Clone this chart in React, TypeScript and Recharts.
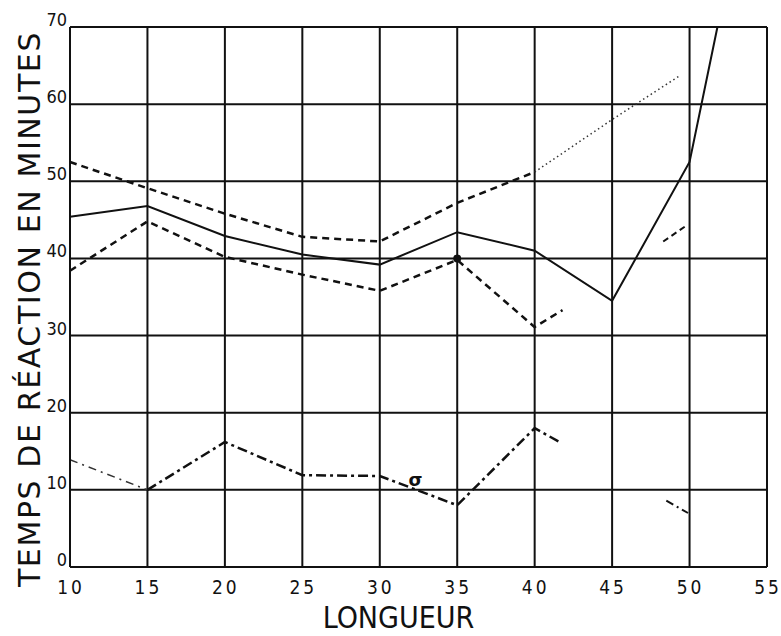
import React from "react";
import {
  LineChart,
  Line,
  XAxis,
  YAxis,
  CartesianGrid,
  ReferenceDot,
} from "recharts";

// Longueur (x) and temps de réaction (y)
const xTicks = [10, 15, 20, 25, 30, 35, 40, 45, 50, 55];
const yTicks = [0, 10, 20, 30, 40, 50, 60, 70];

const solidX = [10, 15, 20, 25, 30, 35, 40, 45, 50, 51.8];
const solidY = [45.4, 46.8, 42.9, 40.5, 39.2, 43.4, 41.0, 34.5, 52.5, 70];

const upperX = [10, 15, 20, 25, 30, 35, 40];
const upperY = [52.5, 49.1, 45.8, 42.8, 42.2, 47.2, 51.2];

const upperDotX = [40, 45, 49.3];
const upperDotY = [51.2, 58.0, 63.6];

const lowerX = [10, 15, 20, 25, 30, 35, 40, 41.8];
const lowerY = [38.4, 44.8, 40.2, 37.9, 35.8, 39.8, 31.1, 33.3];

const lowerStubX = [48.3, 49.9];
const lowerStubY = [42.2, 44.4];

const dashDotStartX = [10, 15];
const dashDotStartY = [13.9, 10.0];

const dashDotX = [15, 20, 25, 30, 35, 40, 41.6];
const dashDotY = [10.0, 16.2, 11.9, 11.8, 8.0, 18.0, 16.2];

const dashDotStubX = [48.5, 49.9];
const dashDotStubY = [8.6, 7.0];

const toPoints = (xs: number[], ys: number[]) =>
  xs.map((x, i) => ({ x, y: ys[i] }));

const FONT = "'DejaVu Sans', sans-serif";
const FONT_NARROW = "'DejaVu Sans Condensed', 'DejaVu Sans', sans-serif";

function XTick({ x, y, payload }: any) {
  return (
    <text
      x={x + 1}
      y={y + 27}
      textAnchor="middle"
      fontFamily={FONT_NARROW}
      fontSize={19}
      letterSpacing={3}
      fill="#111"
    >
      {payload.value}
    </text>
  );
}

function YTick({ x, y, payload }: any) {
  return (
    <text
      x={x}
      y={y - 1}
      textAnchor="end"
      fontFamily={FONT_NARROW}
      fontSize={18}
      fill="#111"
    >
      {payload.value}
    </text>
  );
}

// axis titles placed relative to the plot's viewBox
function XTitle({ viewBox }: any) {
  const cx = viewBox.x + viewBox.width / 2 - 20;
  return (
    <text
      x={cx}
      y={viewBox.y + 61}
      textAnchor="middle"
      fontFamily={FONT_NARROW}
      fontSize={30}
      fill="#111"
    >
      LONGUEUR
    </text>
  );
}

function YTitle({ viewBox }: any) {
  const cx = 29;
  const cy = viewBox.y + viewBox.height / 2 + 12;
  return (
    <text
      x={cx}
      y={cy}
      transform={`rotate(-90, ${cx}, ${cy})`}
      textAnchor="middle"
      dominantBaseline="central"
      fontFamily={FONT}
      fontSize={30}
      letterSpacing={1.6}
      fill="#111"
    >
      TEMPS DE RÉACTION EN MINUTES
    </text>
  );
}

export default function App() {
  return (
    <div
      style={{
        position: "fixed",
        left: 0,
        top: 0,
        width: 781,
        height: 636,
        background: "#fff",
      }}
    >
      <LineChart
        width={781}
        height={636}
        margin={{ top: 27, right: 14, left: 0, bottom: 0 }}
      >
        <CartesianGrid stroke="#111" strokeWidth={2} />
        <XAxis
          type="number"
          dataKey="x"
          domain={[10, 55]}
          ticks={xTicks}
          height={69}
          axisLine={{ stroke: "#111", strokeWidth: 2 }}
          tickLine={false}
          tickSize={0}
          tickMargin={0}
          tick={<XTick />}
          label={<XTitle />}
        />
        <YAxis
          type="number"
          dataKey="y"
          domain={[0, 70]}
          ticks={yTicks}
          width={70}
          axisLine={{ stroke: "#111", strokeWidth: 2 }}
          tickLine={false}
          tickSize={0}
          tickMargin={3}
          tick={<YTick />}
          label={<YTitle />}
        />
        <Line
          data={toPoints(solidX, solidY)}
          dataKey="y"
          stroke="#111"
          strokeWidth={2}
          dot={false}
          isAnimationActive={false}
        />
        <Line
          data={toPoints(upperX, upperY)}
          dataKey="y"
          stroke="#111"
          strokeWidth={2.5}
          strokeDasharray="7 5"
          dot={false}
          isAnimationActive={false}
        />
        <Line
          data={toPoints(upperDotX, upperDotY)}
          dataKey="y"
          stroke="#333"
          strokeWidth={1.5}
          strokeDasharray="1.5 3"
          dot={false}
          isAnimationActive={false}
        />
        <Line
          data={toPoints(lowerX, lowerY)}
          dataKey="y"
          stroke="#111"
          strokeWidth={2.5}
          strokeDasharray="7 5"
          dot={false}
          isAnimationActive={false}
        />
        <Line
          data={toPoints(lowerStubX, lowerStubY)}
          dataKey="y"
          stroke="#111"
          strokeWidth={2}
          strokeDasharray="6 4"
          dot={false}
          isAnimationActive={false}
        />
        <Line
          data={toPoints(dashDotStartX, dashDotStartY)}
          dataKey="y"
          stroke="#333"
          strokeWidth={1.5}
          strokeDasharray="8 5 2 5"
          dot={false}
          isAnimationActive={false}
        />
        <Line
          data={toPoints(dashDotX, dashDotY)}
          dataKey="y"
          stroke="#111"
          strokeWidth={2.5}
          strokeDasharray="10 4 3 4"
          dot={false}
          isAnimationActive={false}
        />
        <Line
          data={toPoints(dashDotStubX, dashDotStubY)}
          dataKey="y"
          stroke="#111"
          strokeWidth={2}
          strokeDasharray="8 4 2 4"
          dot={false}
          isAnimationActive={false}
        />
        <ReferenceDot x={35} y={40} r={4} fill="#111" stroke="none" />
        <ReferenceDot
          x={32.3}
          y={11.3}
          r={0}
          stroke="none"
          label={{
            value: "σ",
            position: "center",
            style: { fontFamily: FONT, fontSize: 18, fontWeight: 700, fill: "#111" },
          }}
        />
      </LineChart>
    </div>
  );
}
